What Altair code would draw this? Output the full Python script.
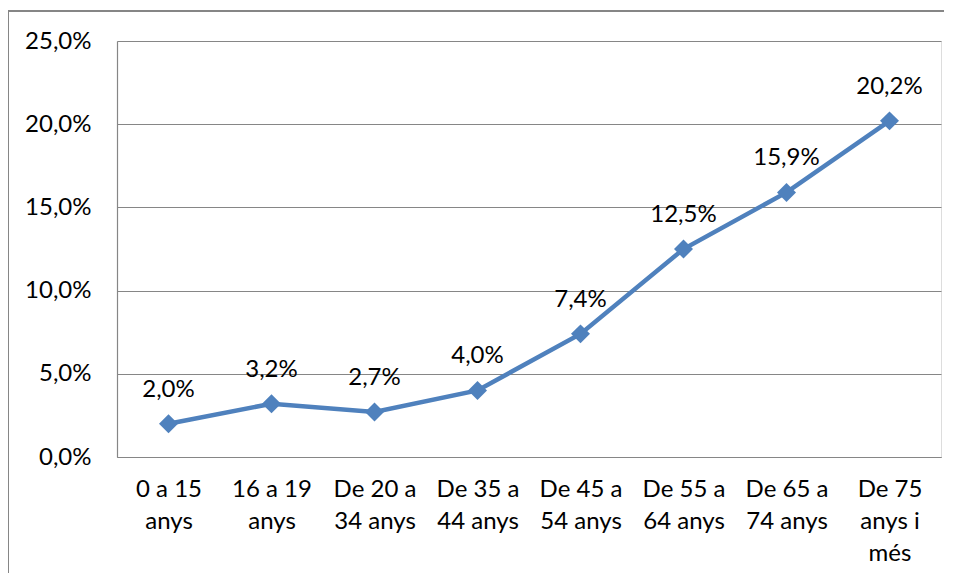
import altair as alt
import pandas as pd

categories = ["0 a 15|anys", "16 a 19|anys", "De 20 a|34 anys", "De 35 a|44 anys",
              "De 45 a|54 anys", "De 55 a|64 anys", "De 65 a|74 anys", "De 75|anys i|més"]
values = [2.0, 3.2, 2.7, 4.0, 7.4, 12.5, 15.9, 20.2]
labels = ["2,0%", "3,2%", "2,7%", "4,0%", "7,4%", "12,5%", "15,9%", "20,2%"]

df = pd.DataFrame({"cat": categories, "val": values, "lab": labels})

FONT = "Lato"
FS = 24
BLUE = "#4F81BD"
GRAY = "#868686"

x = alt.X("cat:N", sort=categories, title=None,
          scale=alt.Scale(paddingInner=0, paddingOuter=0, align=0.5),
          axis=alt.Axis(labelExpr="split(datum.label, '|')", labelAngle=0,
                        labelFontSize=FS, labelFont=FONT, labelColor="#000000",
                        labelLineHeight=32, labelPadding=20, tickSize=0, ticks=False,
                        domainColor=GRAY, domainWidth=1.2, labelBaseline="top"))
y = alt.Y("val:Q", title=None,
          scale=alt.Scale(domain=[0, 25], nice=False),
          axis=alt.Axis(values=[0, 5, 10, 15, 20, 25],
                        labelExpr="replace(format(datum.value, '.1f'), '.', ',') + '%'",
                        labelFontSize=FS, labelFont=FONT, labelColor="#000000",
                        labelPadding=26, ticks=False, tickSize=0,
                        grid=True, gridColor=GRAY, gridWidth=1.2,
                        domainColor=GRAY, domainWidth=1.2))

base = alt.Chart(df)
line = base.mark_line(color=BLUE, strokeWidth=4.5).encode(x=x, y=y)
pts = base.mark_point(shape="diamond", filled=True, color=BLUE, size=360, opacity=1).encode(x=x, y=y)
txt = base.mark_text(font=FONT, fontSize=FS, dy=-34, color="#000000").encode(x=x, y=y, text="lab:N")

frame_left = alt.Chart(df).mark_rule(color=GRAY, strokeWidth=1.5).encode(
    x=alt.value(-109), y=alt.value(-30), y2=alt.value(560))
frame_top = alt.Chart(df).mark_rule(color=GRAY, strokeWidth=1.5).encode(
    x=alt.value(-109), x2=alt.value(900), y=alt.value(-30))

chart = alt.layer(frame_left, frame_top, line, pts, txt).properties(
    width=824, height=416,
    autosize=alt.AutoSizeParams(type="none"),
    padding={"left": 109, "top": 33, "right": 3, "bottom": 116},
).configure_view(stroke=None).configure(background="white")

chart.save("out.html", embed_options={"renderer": "svg", "actions": False})
